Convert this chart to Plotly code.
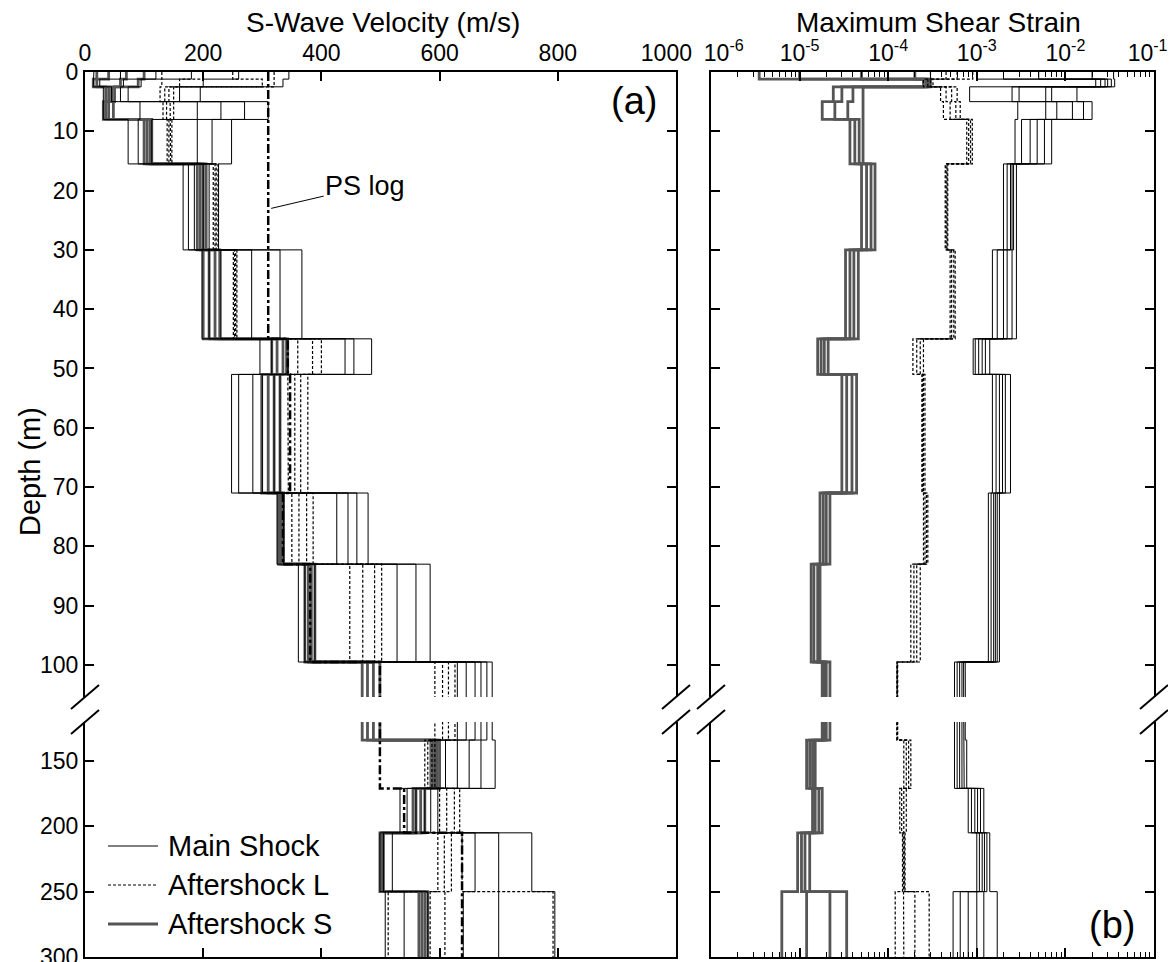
import plotly.graph_objects as go

# the page puts the figure 8 px in from the top-left corner
OFF = 8
W, H = 1176 - OFF, 962 - OFF

# layer boundaries (m)
depth_top = [0, 1.2, 2.5, 5, 8, 15.5, 30, 45, 51, 71, 83, 99.5, 134, 171, 205, 250]
depth_bot = [1.2, 2.5, 5, 8, 15.5, 30, 45, 51, 71, 83, 99.5, 134, 171, 205, 250, 300]

# S-wave velocity (m/s), one row per layer, one column per identified model
main_vs = [
    [15, 60, 120, 180, 260, 345],
    [14, 25, 65, 95, 200, 335],
    [31, 45, 60, 73, 160, 195],
    [31, 93, 190, 230, 270, 310],
    [73, 90, 113, 190, 215, 248],
    [166, 175, 185, 200, 210, 226],
    [198, 210, 230, 282, 330, 367],
    [296, 316, 340, 440, 455, 485],
    [248, 260, 284, 300, 320, 330],
    [325, 336, 426, 445, 460, 479],
    [361, 372, 389, 528, 560, 584],
    [630, 645, 660, 670, 680, 689],
    [584, 610, 630, 650, 670, 694],
    [533, 545, 560, 575, 585, 597],
    [499, 505, 520, 660, 700, 756],
    [508, 540, 580, 640, 700, 795],
]
aft_l_vs = [
    [130, 200, 250, 320],
    [130, 160, 300, 320],
    [127, 135, 142, 150],
    [132, 138, 144, 150],
    [139, 142, 145, 147],
    [217, 220, 222, 225],
    [251, 253, 255, 257],
    [343, 360, 385, 400],
    [344, 355, 365, 377],
    [350, 362, 375, 386],
    [448, 470, 490, 502],
    [592, 605, 615, 626],
    [575, 580, 587, 592],
    [600, 612, 625, 634],
    [597, 608, 620, 638],
    [513, 584, 609, 792],
]
aft_s_vs = [
    [20, 40, 70, 100],
    [14, 20, 60, 90],
    [35, 40, 45, 50],
    [31, 35, 40, 48],
    [100, 105, 110, 113],
    [190, 195, 200, 205],
    [200, 210, 220, 228],
    [316, 325, 335, 343],
    [299, 310, 320, 330],
    [327, 330, 333, 336],
    [372, 378, 383, 389],
    [469, 478, 488, 499],
    [588, 592, 596, 600],
    [555, 560, 568, 575],
    [499, 501, 503, 505],
    [565, 570, 575, 580],
]
ps_log_vs = [310, 310, 310, 310, 310, 310, 310, 343, 347, 335, 381, 499, 499, 540, 638, 638]

# maximum shear strain, same layout
main_strain = [
    [1.0e-3, 2.0e-3, 5.0e-3, 1.0e-2, 2.0e-2, 3.5e-2],
    [2.2e-2, 2.5e-2, 2.8e-2, 3.0e-2, 3.3e-2, 3.6e-2],
    [8.3e-4, 2.5e-3, 3.0e-3, 6.0e-3, 7.0e-3, 1.35e-2],
    [2.9e-3, 6.0e-3, 8.0e-3, 1.2e-2, 1.6e-2, 2.0e-2],
    [2.7e-3, 3.2e-3, 4.0e-3, 4.8e-3, 5.8e-3, 7.0e-3],
    [2.0e-3, 2.2e-3, 2.4e-3, 2.5e-3, 2.6e-3, 2.8e-3],
    [1.5e-3, 1.7e-3, 2.0e-3, 2.2e-3, 2.5e-3, 2.8e-3],
    [9.1e-4, 9.6e-4, 1.05e-3, 1.15e-3, 1.25e-3, 1.4e-3],
    [1.5e-3, 1.65e-3, 1.8e-3, 1.95e-3, 2.1e-3, 2.4e-3],
    [1.35e-3, 1.45e-3, 1.55e-3, 1.62e-3, 1.7e-3, 1.8e-3],
    [1.35e-3, 1.45e-3, 1.55e-3, 1.62e-3, 1.7e-3, 1.8e-3],
    [5.6e-4, 6.0e-4, 6.4e-4, 6.8e-4, 7.1e-4, 7.4e-4],
    [5.6e-4, 6.0e-4, 6.4e-4, 6.8e-4, 7.2e-4, 7.7e-4],
    [8.0e-4, 8.7e-4, 9.5e-4, 1.02e-3, 1.1e-3, 1.2e-3],
    [1.0e-3, 1.07e-3, 1.15e-3, 1.22e-3, 1.3e-3, 1.4e-3],
    [5.4e-4, 6.5e-4, 8.0e-4, 1.0e-3, 1.2e-3, 1.7e-3],
]
aft_l_strain = [
    [3.0e-4, 4.5e-4, 6.0e-4, 9.0e-4],
    [2.5e-4, 2.8e-4, 3.0e-4, 3.2e-4],
    [3.9e-4, 4.5e-4, 5.2e-4, 6.0e-4],
    [4.2e-4, 5.0e-4, 5.8e-4, 6.5e-4],
    [7.7e-4, 8.1e-4, 8.5e-4, 8.9e-4],
    [4.4e-4, 4.5e-4, 4.6e-4, 4.7e-4],
    [5.0e-4, 5.2e-4, 5.5e-4, 5.7e-4],
    [1.9e-4, 2.1e-4, 2.3e-4, 2.5e-4],
    [2.4e-4, 2.45e-4, 2.5e-4, 2.6e-4],
    [2.5e-4, 2.6e-4, 2.7e-4, 2.8e-4],
    [1.8e-4, 1.95e-4, 2.1e-4, 2.3e-4],
    [1.25e-4, 1.26e-4, 1.27e-4, 1.28e-4],
    [1.5e-4, 1.6e-4, 1.7e-4, 1.8e-4],
    [1.35e-4, 1.42e-4, 1.5e-4, 1.6e-4],
    [1.45e-4, 1.48e-4, 1.52e-4, 1.55e-4],
    [1.2e-4, 1.5e-4, 2.0e-4, 2.9e-4],
]
aft_s_strain = [
    [3.5e-6, 1.0e-5, 5.0e-5, 2.0e-4],
    [2.5e-4, 2.7e-4, 2.8e-4, 3.0e-4],
    [2.4e-5, 3.0e-5, 4.0e-5, 5.2e-5],
    [1.8e-5, 2.5e-5, 3.5e-5, 5.2e-5],
    [3.7e-5, 4.2e-5, 4.7e-5, 5.2e-5],
    [5.0e-5, 5.7e-5, 6.4e-5, 7.1e-5],
    [3.3e-5, 3.7e-5, 4.1e-5, 4.6e-5],
    [1.6e-5, 1.75e-5, 1.9e-5, 2.1e-5],
    [3.0e-5, 3.4e-5, 3.9e-5, 4.4e-5],
    [1.7e-5, 1.85e-5, 2.0e-5, 2.2e-5],
    [1.35e-5, 1.45e-5, 1.6e-5, 1.7e-5],
    [1.8e-5, 1.9e-5, 2.0e-5, 2.2e-5],
    [1.2e-5, 1.3e-5, 1.4e-5, 1.5e-5],
    [1.4e-5, 1.5e-5, 1.65e-5, 1.8e-5],
    [9.5e-6, 1.05e-5, 1.15e-5, 1.3e-5],
    [6.3e-6, 1.2e-5, 2.2e-5, 3.4e-5],
]

vs_ticks = [0, 200, 400, 600, 800, 1000]
# padding spaces nudge the crowded edge labels, as in the original
vs_ticktext = ["0", "200", "400", "600", "800", "1000&nbsp;&nbsp;&nbsp;"]
strain_ticks = [1e-6, 1e-5, 1e-4, 1e-3, 1e-2, 1e-1]
strain_ticktext = ["&nbsp;&nbsp;&nbsp;&nbsp;10<sup>-6</sup>", "10<sup>-5</sup>", "10<sup>-4</sup>",
                   "10<sup>-3</sup>", "10<sup>-2</sup>", "10<sup>-1</sup>&nbsp;&nbsp;"]
upper_depth_ticks = [0, 10, 20, 30, 40, 50, 60, 70, 80, 90, 100]
lower_depth_ticks = [150, 200, 250, 300]
legend_names = ["Main Shock", "Aftershock L", "Aftershock S"]

FONT = "Liberation Sans, Arial, sans-serif"


def px_x(p):
    return (p - OFF) / W


def px_y(p):
    return 1 - (p - OFF) / H


def step_profile(values):
    xs, ys = [], []
    for v, t, b in zip(values, depth_top, depth_bot):
        xs += [v, v]
        ys += [t, b]
    return xs, ys


def columns(rows):
    return [list(c) for c in zip(*rows)]


styles = {
    "Aftershock S": dict(color="#555555", width=2.8),
    "Main Shock": dict(color="black", width=1),
    "Aftershock L": dict(color="black", width=1.2, dash="3px,2px"),
}

fig = go.Figure()

panels = [
    (("x", "y"), ("x2", "y2"), {"Aftershock S": aft_s_vs, "Main Shock": main_vs, "Aftershock L": aft_l_vs}),
    (("x3", "y3"), ("x4", "y4"), {"Aftershock S": aft_s_strain, "Main Shock": main_strain, "Aftershock L": aft_l_strain}),
]

for p_i, (upper, lower, groups) in enumerate(panels):
    for name, rows in groups.items():
        for run in columns(rows):
            xs, ys = step_profile(run)
            for xa, ya in (upper, lower):
                fig.add_trace(go.Scatter(
                    x=xs, y=ys, xaxis=xa, yaxis=ya, mode="lines",
                    line=styles[name], name=name, showlegend=False,
                    hoverinfo="skip",
                ))
    if p_i == 0:
        xs, ys = step_profile(ps_log_vs)
        for xa, ya in (upper, lower):
            fig.add_trace(go.Scatter(
                x=xs, y=ys, xaxis=xa, yaxis=ya, mode="lines",
                line=dict(color="black", width=2.5, dash="dashdot"),
                name="PS log", showlegend=False, hoverinfo="skip",
            ))

axis_common = dict(
    showline=True, linecolor="black", linewidth=2, ticks="inside",
    tickcolor="black", tickwidth=1.5, ticklen=9, showgrid=False, zeroline=False,
    automargin=False, ticklabeloverflow="allow",
    tickfont=dict(family=FONT, size=23, color="black"),
)

a_dom = [px_x(85), px_x(676)]
b_dom = [px_x(711), px_x(1154)]
up_dom = [px_y(697), px_y(72)]
lo_dom = [px_y(957), px_y(722)]
up_range = [105.4, 0]
lo_range = [300, 120.2]

minor_strain = [k * 10.0 ** e for e in range(-6, -1) for k in range(2, 10)]
log_minor = dict(ticks="inside", ticklen=5, tickwidth=1.2, tickcolor="black",
                 tickmode="array", tickvals=minor_strain, showgrid=False)

fig.update_layout(
    xaxis=dict(axis_common, domain=a_dom, anchor="y", side="top", range=[0, 1000],
               tickmode="array", tickvals=vs_ticks, ticktext=vs_ticktext),
    xaxis2=dict(axis_common, domain=a_dom, anchor="y2", side="bottom", range=[0, 1000],
                tickmode="array", tickvals=vs_ticks, showticklabels=False),
    yaxis=dict(axis_common, domain=up_dom, anchor="x", range=up_range, mirror="ticks",
               tickmode="array", tickvals=upper_depth_ticks),
    yaxis2=dict(axis_common, domain=lo_dom, anchor="x2", range=lo_range, mirror="ticks",
                tickmode="array", tickvals=lower_depth_ticks),
    xaxis3=dict(axis_common, domain=b_dom, anchor="y3", side="top", type="log", range=[-6, -1],
                tickmode="array", tickvals=strain_ticks, ticktext=strain_ticktext,
                minor=log_minor),
    xaxis4=dict(axis_common, domain=b_dom, anchor="y4", side="bottom", type="log", range=[-6, -1],
                tickmode="array", tickvals=strain_ticks, showticklabels=False, minor=log_minor),
    yaxis3=dict(axis_common, domain=up_dom, anchor="x3", range=up_range, mirror="ticks",
                tickmode="array", tickvals=upper_depth_ticks, showticklabels=False),
    yaxis4=dict(axis_common, domain=lo_dom, anchor="x4", range=lo_range, mirror="ticks",
                tickmode="array", tickvals=lower_depth_ticks, showticklabels=False),
    width=W, height=H,
    margin=dict(l=0, r=0, t=0, b=0, autoexpand=False),
    paper_bgcolor="white", plot_bgcolor="white",
    font=dict(family=FONT, size=23, color="black"),
    showlegend=False,
)

# break marks on the depth axes
for xp in (85, 676, 711, 1154):
    for yp in (697, 722):
        fig.add_shape(type="line", xref="paper", yref="paper",
                      x0=px_x(xp - 14), y0=px_y(yp + 12), x1=px_x(xp + 14), y1=px_y(yp - 12),
                      line=dict(color="black", width=2))

# key, drawn in the lower-left corner of panel (a)
for i, name in enumerate(legend_names):
    yp = 846 + 39 * i
    fig.add_shape(type="line", xref="paper", yref="paper",
                  x0=px_x(108), x1=px_x(158), y0=px_y(yp), y1=px_y(yp),
                  line=styles[name])
    fig.add_annotation(text=name, xref="paper", yref="paper", x=px_x(166), y=px_y(yp),
                       xanchor="left", yanchor="middle", showarrow=False,
                       font=dict(family=FONT, size=29, color="black"))


def label(text, xp, yp, size, angle=0):
    fig.add_annotation(text=text, xref="paper", yref="paper", x=px_x(xp), y=px_y(yp),
                       xanchor="center", yanchor="middle", textangle=angle,
                       showarrow=False, font=dict(family=FONT, size=size, color="black"))


label("S-Wave Velocity (m/s)", 383, 23, 28)
label("Maximum Shear Strain", 938, 23, 28)
label("Depth (m)", 30, 472, 29, angle=-90)
label("(a)", 634, 101, 38)
label("(b)", 1112, 925, 38)

fig.add_annotation(text="PS log", xref="x", yref="y", x=315, y=23,
                   ax=94, ay=-22, showarrow=True, arrowhead=0, arrowwidth=1,
                   arrowcolor="black", font=dict(family=FONT, size=27, color="black"))

fig.write_html("out.html")
